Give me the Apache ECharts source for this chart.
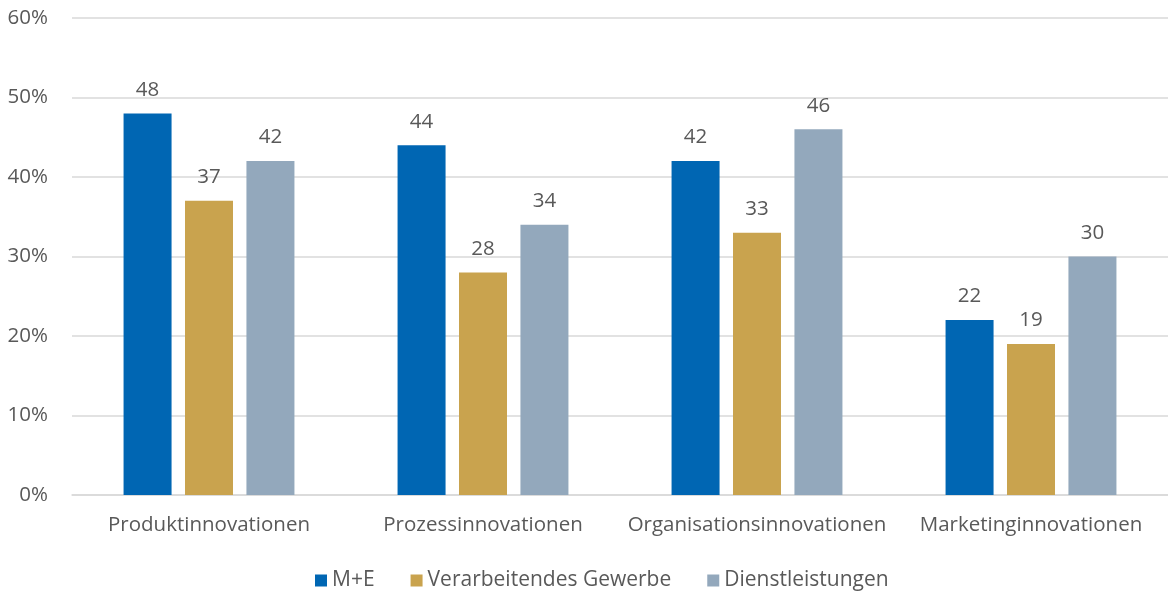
<!DOCTYPE html>
<html>
<head>
<meta charset="utf-8">
<script src="https://cdn.jsdelivr.net/npm/echarts@6/dist/echarts.min.js"></script>
<style>
  html, body { margin: 0; padding: 0; background: #fff; }
  #chart { width: 1168px; height: 594px; }
</style>
</head>
<body>
<div id="chart"></div>
<script>
// Innovation types and shares (%) per sector
const categories = ['Produktinnovationen', 'Prozessinnovationen', 'Organisationsinnovationen', 'Marketinginnovationen'];
const seriesNames = ['M+E', 'Verarbeitendes Gewerbe', 'Dienstleistungen'];
const valuesME = [48, 44, 42, 22];
const valuesVG = [37, 28, 33, 19];
const valuesDL = [42, 34, 46, 30];
const colors = ['#0066B3', '#C9A34E', '#93A8BC'];

const FONT = '"Open Sans", "Noto Sans", sans-serif';
const TEXT = '#595959';
const SIZE = 20.5;

const chart = echarts.init(document.getElementById('chart'), null, { renderer: 'canvas' });

function barSeries(name, data, color) {
  return {
    name: name,
    type: 'bar',
    data: data,
    barWidth: 48,
    barGap: '28%',
    itemStyle: { color: color },
    label: {
      show: true,
      position: 'top',
      distance: 13,
      color: TEXT,
      fontFamily: FONT,
      fontSize: SIZE
    }
  };
}

chart.setOption({
  animation: false,
  color: colors,
  grid: { left: 72, right: 0, top: 18, bottom: 99, containLabel: false },
  legend: {
    top: 565,
    left: 310,
    icon: 'rect',
    itemWidth: 12,
    itemHeight: 12,
    itemGap: 36,
    textStyle: { color: TEXT, fontFamily: FONT, fontSize: 21 },
    data: seriesNames
  },
  xAxis: {
    type: 'category',
    data: categories,
    axisLine: { lineStyle: { color: '#D9D9D9', width: 1.5 } },
    axisTick: { show: false },
    axisLabel: { color: TEXT, fontFamily: FONT, fontSize: SIZE, margin: 20, interval: 0 }
  },
  yAxis: {
    type: 'value',
    min: 0,
    max: 60,
    interval: 10,
    axisLine: { show: false },
    axisTick: { show: false },
    splitLine: { lineStyle: { color: '#D9D9D9', width: 1.5 } },
    axisLabel: { color: TEXT, fontFamily: FONT, fontSize: SIZE, margin: 24, formatter: '{value}%' }
  },
  series: [
    barSeries(seriesNames[0], valuesME, colors[0]),
    barSeries(seriesNames[1], valuesVG, colors[1]),
    barSeries(seriesNames[2], valuesDL, colors[2])
  ]
});
</script>
</body>
</html>
